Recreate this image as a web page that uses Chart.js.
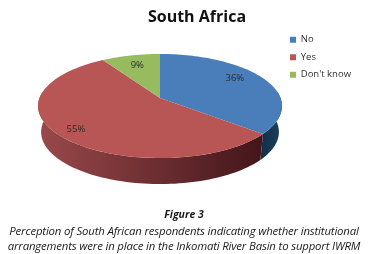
<!DOCTYPE html>
<html>
<head>
<meta charset="utf-8">
<script src="https://cdn.jsdelivr.net/npm/chart.js@4"></script>
<style>
  html, body { margin: 0; padding: 0; background: #fff; }
  #wrap { position: relative; width: 368px; height: 254px; overflow: hidden; }
  #wrap canvas { position: absolute; left: 0; top: 0; }
  .cap { position: absolute; left: 0; width: 368px; text-align: center; white-space: nowrap;
         font-family: "Open Sans", sans-serif; font-style: italic; color: #1a1a1a; }
</style>
</head>
<body>
<div id="wrap">
  <canvas id="pie" width="368" height="254"></canvas>
  <div class="cap" style="top:207px;font-size:10.5px;font-weight:700;">Figure 3</div>
  <div class="cap" style="top:223px;font-size:11.4px;letter-spacing:-0.17px;">Perception of South African respondents indicating whether institutional</div>
  <div class="cap" style="top:238px;font-size:11.4px;letter-spacing:-0.17px;">arrangements were in place in the Inkomati River Basin to support IWRM</div>
</div>
<script>
const categories = ['No', 'Yes', "Don't know"];
const shares = [36, 55, 9];
const faceColors = ['#4a7eba', '#b85655', '#97bb5f'];
const wallLight = ['#1a3d58', '#98484a', '#97bb5f'];
const wallDark = ['#14304a', '#43151a', '#97bb5f'];

// tilted pie: circle seen in perspective, apex is not the middle of the ellipse
const apexX = 160, apexY = 98;
const tiltA = 120.5, tiltB = 50.8, tiltK = -0.154;
const depth = 26;

function rim(angle, r, down, shrink) {
    const X = r * Math.cos(angle), Y = r * Math.sin(angle);
    const w = 1 + tiltK * Y;
    return [apexX + tiltA * X / w * (shrink || 1), apexY + tiltB * Y / w + (down || 0)];
}

function sweep(ctx, from, to, down, shrink) {
    const steps = 80;
    for (let i = 0; i <= steps; i++) {
        const p = rim(from + (to - from) * i / steps, 1, down, shrink);
        ctx.lineTo(p[0], p[1]);
    }
}

const tiltedPie = {
    id: 'tiltedPie',
    beforeDatasetsDraw(chart) {
        const ctx = chart.ctx;
        const arcs = chart.getDatasetMeta(0).data;
        ctx.save();

        // side wall, only the front half shows
        arcs.forEach((arc, i) => {
            const from = Math.max(arc.startAngle, -0.12);
            const to = Math.min(arc.endAngle, Math.PI + 0.12);
            if (to <= from) return;
            const a = rim(from, 1), b = rim(to, 1);
            const grad = ctx.createLinearGradient(Math.min(a[0], b[0]), 0, Math.max(a[0], b[0]), 0);
            grad.addColorStop(0, i == 1 ? wallLight[i] : wallDark[i]);
            grad.addColorStop(1, i == 1 ? wallDark[i] : wallLight[i]);
            ctx.beginPath();
            sweep(ctx, from, to, 0);
            sweep(ctx, to, from, depth, 0.975);
            ctx.closePath();
            ctx.fillStyle = grad;
            ctx.fill();
        });

        // top face
        arcs.forEach((arc, i) => {
            ctx.beginPath();
            ctx.moveTo(apexX, apexY);
            sweep(ctx, arc.startAngle, arc.endAngle, 0);
            ctx.closePath();
            ctx.fillStyle = faceColors[i];
            ctx.fill();
        });

        // percent labels
        const labelSpot = [[0.78, -0.12], [0.85, 0], [0.75, 0]];
        ctx.fillStyle = '#2b2b2b';
        ctx.font = '9.5px "Open Sans", sans-serif';
        ctx.textAlign = 'center';
        ctx.textBaseline = 'middle';
        arcs.forEach((arc, i) => {
            const mid = (arc.startAngle + arc.endAngle) / 2 + labelSpot[i][1];
            const p = rim(mid, labelSpot[i][0]);
            ctx.fillText(shares[i] + '%', p[0], p[1]);
        });

        ctx.restore();
        return false;
    }
};

new Chart(document.getElementById('pie'), {
    type: 'pie',
    data: {
        labels: categories,
        datasets: [{ data: shares, backgroundColor: faceColors, borderWidth: 0 }]
    },
    options: {
        responsive: false,
        animation: false,
        layout: { padding: { left: 33, right: 7, top: 6, bottom: 60 } },
        plugins: {
            title: {
                display: true,
                text: 'South Africa',
                color: '#111',
                font: { family: '"Open Sans", sans-serif', size: 16, weight: 'bold', lineHeight: 1 },
                padding: { top: 3, bottom: 2 }
            },
            legend: {
                position: 'right',
                align: 'start',
                fullSize: false,
                labels: {
                    boxWidth: 6,
                    boxHeight: 6,
                    padding: 8,
                    color: '#333',
                    font: { family: '"Open Sans", sans-serif', size: 9.5 }
                }
            },
            tooltip: { enabled: false }
        }
    },
    plugins: [tiltedPie]
});
</script>
</body>
</html>
